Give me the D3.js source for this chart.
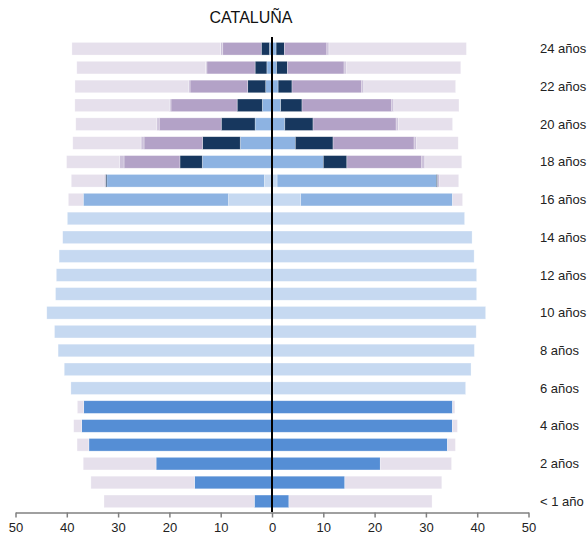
<!DOCTYPE html>
<html>
<head>
<meta charset="utf-8">
<script src="https://cdn.jsdelivr.net/npm/d3@7"></script>
<style>
  body { margin: 0; background: #fff; }
  svg { font-family: "Liberation Sans", Arial, sans-serif; }
</style>
</head>
<body>
<svg width="587" height="538"></svg>
<script>
// ages 0..24
const ages = d3.range(0, 25);
const ageLabels = ages.map(a => a === 0 ? "< 1 año" : a + " años");

const keys = ["infantil", "obligatoria", "postobligatoria", "fpSuperior", "universidad", "otros", "noEscolarizado"];
const colors = ["#558ed5", "#c6d9f1", "#8db3e2", "#17375e", "#b3a2c7", "#ccc1da", "#e6e0ec"];

// left side (hombres)
const infantilL      = [3.45, 15.1, 22.6, 35.7, 37.1, 36.7, 0.3, 0, 0, 0, 0, 0, 0, 0, 0, 0, 0, 0, 0, 0, 0, 0, 0, 0, 0];
const obligatoriaL   = [0, 0, 0, 0, 0, 0, 38.9, 40.5, 41.7, 42.4, 43.9, 42.2, 42.05, 41.5, 40.8, 39.9, 8.5, 1.5, 0, 0, 0, 0, 0, 0, 0];
const postoblL       = [0, 0, 0, 0, 0, 0, 0, 0, 0, 0, 0, 0, 0, 0, 0, 0, 28.3, 30.7, 13.6, 6.2, 3.3, 1.9, 1.23, 1.0, 0.5];
const fpSupL         = [0, 0, 0, 0, 0, 0, 0, 0, 0, 0, 0, 0, 0, 0, 0, 0, 0, 0.27, 4.35, 7.35, 6.6, 4.9, 3.5, 2.3, 1.6];
const univL          = [0, 0, 0, 0, 0, 0, 0, 0, 0, 0, 0, 0, 0, 0, 0, 0, 0, 0, 10.9, 11.4, 12.1, 12.9, 11.25, 9.4, 7.5];
const otrosL         = [0, 0, 0, 0, 0, 0, 0, 0, 0, 0, 0, 0, 0, 0, 0, 0, 0, 0.26, 0.9, 0.58, 0.45, 0.33, 0.33, 0.25, 0.4];
const noEscL         = [29.3, 20.2, 14.2, 2.3, 1.56, 1.25, 0, 0, 0, 0, 0, 0, 0, 0, 0, 0, 2.9, 6.4, 10.3, 13.3, 15.8, 18.4, 22.1, 25.1, 29.0];

// right side (mujeres)
const infantilR      = [3.3, 14.2, 21.1, 34.2, 35.15, 35.2, 0.2, 0, 0, 0, 0, 0, 0, 0, 0, 0, 0, 0, 0, 0, 0, 0, 0, 0, 0];
const obligatoriaR   = [0, 0, 0, 0, 0, 0, 37.55, 38.8, 39.45, 39.8, 41.65, 39.9, 39.9, 39.4, 39.0, 37.55, 5.6, 1.0, 0, 0, 0, 0, 0, 0, 0];
const postoblR       = [0, 0, 0, 0, 0, 0, 0, 0, 0, 0, 0, 0, 0, 0, 0, 0, 29.6, 31.05, 10.0, 4.55, 2.5, 1.7, 1.2, 0.9, 0.8];
const fpSupR         = [0, 0, 0, 0, 0, 0, 0, 0, 0, 0, 0, 0, 0, 0, 0, 0, 0, 0.25, 4.6, 7.35, 5.5, 4.15, 2.7, 2.1, 1.6];
const univR          = [0, 0, 0, 0, 0, 0, 0, 0, 0, 0, 0, 0, 0, 0, 0, 0, 0, 0, 14.6, 15.8, 16.2, 17.5, 13.6, 11.05, 8.3];
const otrosR         = [0, 0, 0, 0, 0, 0, 0, 0, 0, 0, 0, 0, 0, 0, 0, 0, 0, 0.4, 0.6, 0.5, 0.4, 0.4, 0.4, 0.4, 0.4];
const noEscR         = [27.9, 18.9, 13.9, 1.55, 1.0, 0.45, 0, 0, 0, 0, 0, 0, 0, 0, 0, 0, 1.95, 3.7, 7.2, 8.1, 10.6, 12.7, 17.9, 22.35, 26.8];

const xTicks = [-50, -40, -30, -20, -10, 0, 10, 20, 30, 40, 50];

const buildRows = (cols) => ages.map((a, i) => {
  const row = { age: a };
  keys.forEach((k, j) => row[k] = cols[j][i]);
  return row;
});
const left = buildRows([infantilL, obligatoriaL, postoblL, fpSupL, univL, otrosL, noEscL]);
const right = buildRows([infantilR, obligatoriaR, postoblR, fpSupR, univR, otrosR, noEscR]);

const svg = d3.select("svg");

const x = d3.scaleLinear().domain([-50, 50]).range([15.5, 528.5]);
const y = d3.scaleBand()
  .domain(ages.slice().reverse())
  .range([36.2, 513.9])
  .padding(0.33);
const color = d3.scaleOrdinal().domain(keys).range(colors);

const stack = d3.stack().keys(keys);

function drawSide(rows, sign, cls) {
  const series = stack(rows);
  svg.append("g").attr("class", cls)
    .selectAll("g")
    .data(series)
    .join("g")
      .attr("fill", d => color(d.key))
    .selectAll("rect")
    .data(d => d.filter(s => s[1] - s[0] > 0))
    .join("rect")
      .attr("x", d => sign < 0 ? x(-d[1]) : x(d[0]))
      .attr("width", d => Math.abs(x(d[1]) - x(d[0])))
      .attr("y", d => y(d.data.age))
      .attr("height", y.bandwidth())
      .attr("stroke", "#fff")
      .attr("stroke-opacity", 0.5)
      .attr("stroke-width", 0.6);
}

drawSide(left, -1, "left");
drawSide(right, 1, "right");

// center line
svg.append("line")
  .attr("x1", x(0)).attr("x2", x(0))
  .attr("y1", 37).attr("y2", 512)
  .attr("stroke", "#000")
  .attr("stroke-width", 2);

// x axis
const xAxis = svg.append("g")
  .attr("transform", "translate(0,512.5)")
  .call(d3.axisBottom(x)
    .tickValues(xTicks)
    .tickFormat(d => Math.abs(d))
    .tickSize(5)
    .tickSizeOuter(0)
    .tickPadding(5));
xAxis.select(".domain").attr("stroke", "#808080").attr("stroke-width", 1.5);
xAxis.selectAll(".tick line").attr("stroke", "#808080").attr("stroke-width", 1.5);
xAxis.selectAll(".tick text")
  .attr("fill", "#222")
  .style("font-size", "13px")
  .style("font-family", "Liberation Sans, Arial, sans-serif");

// age labels (even ages only)
svg.append("g")
  .selectAll("text")
  .data(ages.filter(a => a % 2 === 0))
  .join("text")
    .attr("x", 540)
    .attr("y", a => y(a) + y.bandwidth() / 2)
    .attr("dy", "0.35em")
    .attr("fill", "#222")
    .style("font-size", "13px")
    .text(a => ageLabels[a]);

// title
svg.append("text")
  .attr("x", 251)
  .attr("y", 23)
  .attr("text-anchor", "middle")
  .attr("fill", "#111")
  .style("font-size", "16px")
  .text("CATALUÑA");
</script>
</body>
</html>
